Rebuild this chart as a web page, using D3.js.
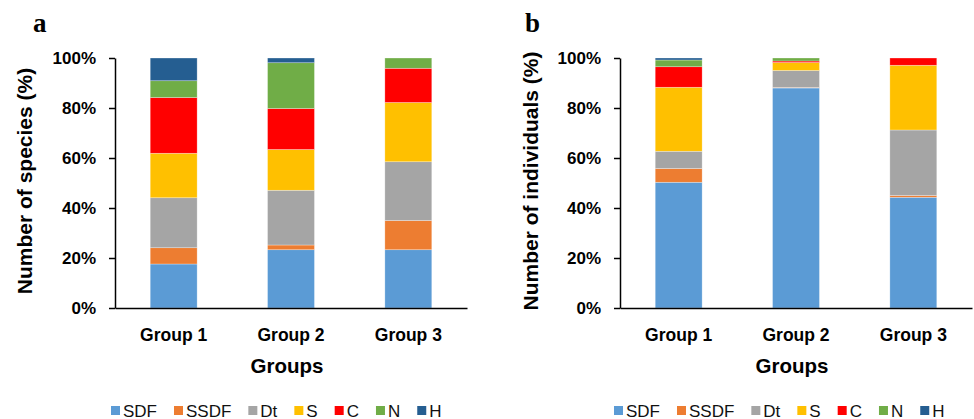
<!DOCTYPE html>
<html>
<head>
<meta charset="utf-8">
<script src="https://cdn.jsdelivr.net/npm/d3@7"></script>
<style>
  body { margin: 0; background: #fff; }
  svg { display: block; font-family: "Liberation Sans", Arial, sans-serif; }
</style>
</head>
<body>
<div id="container"></div>
<script>
const groups = ["Group 1", "Group 2", "Group 3"];
const categories = ["SDF", "SSDF", "Dt", "S", "C", "N", "H"];
const colors = ["#5B9BD5", "#ED7D31", "#A5A5A5", "#FFC000", "#FF0000", "#70AD47", "#255E91"];
const yTicks = [0, 20, 40, 60, 80, 100];

// a: number of species (%), per group
const speciesSDF  = [17.6, 23.3, 23.3];
const speciesSSDF = [6.5, 1.9, 11.7];
const speciesDt   = [20.0, 21.9, 23.5];
const speciesS    = [17.8, 16.3, 23.7];
const speciesC    = [22.3, 16.4, 13.7];
const speciesN    = [6.7, 18.3, 4.1];
const speciesH    = [9.1, 1.9, 0];

// b: number of individuals (%), per group
const indivSDF  = [50.3, 88.0, 44.3];
const indivSSDF = [5.5, 0.2, 0.7];
const indivDt   = [6.9, 6.8, 26.2];
const indivS    = [25.6, 3.2, 25.9];
const indivC    = [8.2, 0.6, 2.9];
const indivN    = [2.7, 1.2, 0];
const indivH    = [0.8, 0, 0];

const w = 974;
const h = 419;

const svg = d3.select("#container")
    .append("svg")
    .attr("width", w)
    .attr("height", h);

function table(series) {
    return groups.map((g, i) => {
        const row = { group: g };
        categories.forEach((c, j) => row[c] = series[j][i]);
        return row;
    });
}

function drawPanel(opt) {
    const g = svg.append("g");

    const x = d3.scaleBand()
        .domain(groups)
        .range([opt.left, opt.left + 352])
        .paddingInner(0.6)
        .paddingOuter(0.3);

    const y = d3.scaleLinear()
        .domain([0, 100])
        .range([308, 58]);

    const stacked = d3.stack().keys(categories)(table(opt.series));

    g.selectAll(".layer")
        .data(stacked)
        .enter().append("g")
        .attr("fill", (d, i) => colors[i])
        .selectAll("rect")
        .data(d => d)
        .enter().append("rect")
        .attr("x", d => x(d.data.group))
        .attr("width", x.bandwidth())
        .attr("y", d => y(d[1]))
        .attr("height", d => y(d[0]) - y(d[1]))
        .attr("stroke", "#fff")
        .attr("stroke-opacity", 0.5)
        .attr("stroke-width", 0.6);

    // y axis
    const yAxis = g.append("g")
        .attr("transform", `translate(${opt.left},0)`)
        .call(d3.axisLeft(y)
            .tickValues(yTicks)
            .tickSize(6)
            .tickSizeOuter(0)
            .tickPadding(13)
            .tickFormat(d => d + "%"));
    yAxis.select(".domain").attr("stroke", "#000").attr("stroke-width", 1.5);
    yAxis.selectAll(".tick line").attr("stroke", "#000").attr("stroke-width", 1.5);
    yAxis.selectAll(".tick text")
        .attr("font-size", 17)
        .attr("font-weight", "bold")
        .attr("fill", "#000")
        .attr("font-family", "Liberation Sans, Arial, sans-serif");

    // x axis
    const xAxis = g.append("g")
        .attr("transform", `translate(0,${y(0)})`)
        .call(d3.axisBottom(x).tickSize(0).tickSizeOuter(0).tickPadding(21));
    xAxis.select(".domain").attr("stroke", "#000").attr("stroke-width", 1.5);
    xAxis.selectAll(".tick text")
        .attr("font-size", 17.5)
        .attr("font-weight", "bold")
        .attr("fill", "#000")
        .attr("font-family", "Liberation Sans, Arial, sans-serif");

    // titles
    g.append("text")
        .attr("x", opt.left + 172)
        .attr("y", 373)
        .attr("text-anchor", "middle")
        .attr("font-size", 20.5)
        .attr("font-weight", "bold")
        .text("Groups");

    g.append("text")
        .attr("transform", `translate(${opt.titleX},181) rotate(-90)`)
        .attr("text-anchor", "middle")
        .attr("dominant-baseline", "central")
        .attr("font-size", 21)
        .attr("font-weight", "bold")
        .text(opt.title);

    g.append("text")
        .attr("x", opt.labelX)
        .attr("y", 32)
        .attr("font-family", "Liberation Serif, Times New Roman, serif")
        .attr("font-size", 27)
        .attr("font-weight", "bold")
        .text(opt.label);

    // legend
    let lx = opt.legendX;
    categories.forEach((c, i) => {
        g.append("rect")
            .attr("x", lx)
            .attr("y", 406)
            .attr("width", 9)
            .attr("height", 9)
            .attr("fill", colors[i]);
        const t = g.append("text")
            .attr("x", lx + 12)
            .attr("y", 416.5)
            .attr("font-size", 17)
            .attr("fill", "#111")
            .text(c);
        lx += 12 + t.node().getComputedTextLength() + 17;
    });
}

drawPanel({
    left: 115,
    series: [speciesSDF, speciesSSDF, speciesDt, speciesS, speciesC, speciesN, speciesH],
    title: "Number of species (%)",
    titleX: 24,
    label: "a",
    labelX: 33,
    legendX: 111
});

drawPanel({
    left: 620,
    series: [indivSDF, indivSSDF, indivDt, indivS, indivC, indivN, indivH],
    title: "Number of individuals (%)",
    titleX: 530,
    label: "b",
    labelX: 525,
    legendX: 614
});
</script>
</body>
</html>
